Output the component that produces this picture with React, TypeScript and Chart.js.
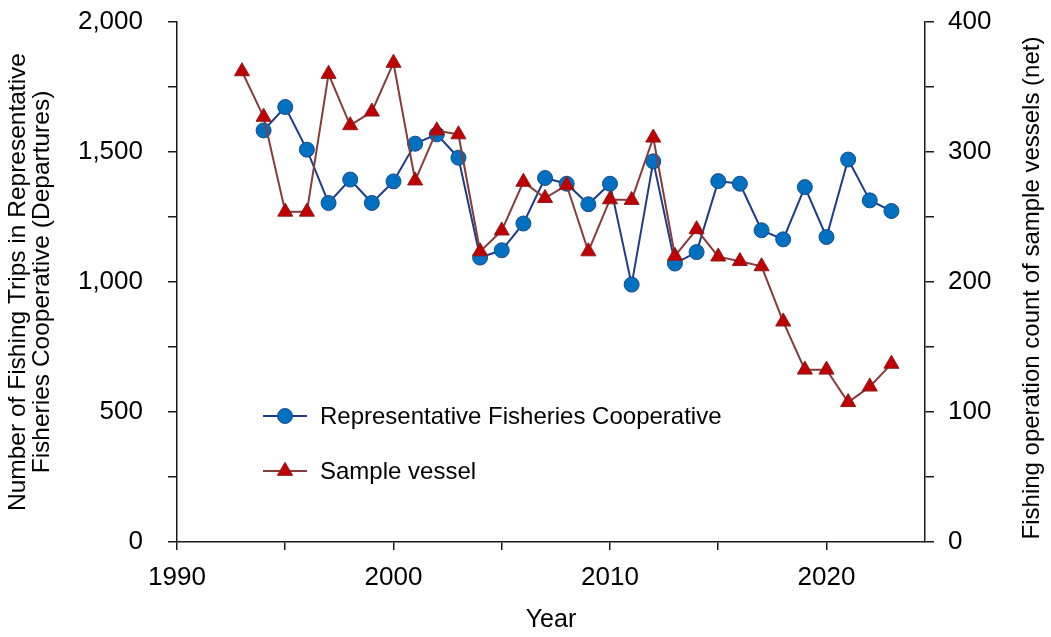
import React, { useEffect, useRef } from 'react';
import { Chart, registerables } from 'chart.js';

Chart.register(...registerables);

// ---- Data ----
const coopYears = [
  1994, 1995, 1996, 1997, 1998, 1999, 2000, 2001, 2002, 2003,
  2004, 2005, 2006, 2007, 2008, 2009, 2010, 2011, 2012, 2013,
  2014, 2015, 2016, 2017, 2018, 2019, 2020, 2021, 2022, 2023,
];
const coopTrips = [
  1583, 1673, 1509, 1304, 1394, 1304, 1387, 1532, 1568, 1478,
  1094, 1122, 1225, 1400, 1378, 1299, 1378, 990, 1464, 1071,
  1115, 1388, 1378, 1199, 1164, 1365, 1173, 1471, 1314, 1273,
];
const vesselYears = [
  1993, 1994, 1995, 1996, 1997, 1998, 1999, 2000, 2001, 2002, 2003,
  2004, 2005, 2006, 2007, 2008, 2009, 2010, 2011, 2012, 2013,
  2014, 2015, 2016, 2017, 2018, 2019, 2020, 2021, 2022, 2023,
];
const vesselCounts = [
  362, 327, 254, 254, 360, 320.5, 331, 368.5, 278, 316.5, 313.5,
  223.5, 239.5, 277, 264.5, 274.5, 223.5, 263.5, 263, 311, 220,
  240.5, 219.5, 216, 212, 169.5, 132.5, 132.5, 107.5, 119.5, 137,
];
const xTickValues = [1990, 1995, 2000, 2005, 2010, 2015, 2020];
const xLabelValues = [1990, 2000, 2010, 2020];
const leftLabelValues = [0, 500, 1000, 1500, 2000];
const rightLabelValues = [0, 100, 200, 300, 400];

const seriesNames = ['Representative Fisheries Cooperative', 'Sample vessel'];
const xTitle = 'Year';
const leftTitle = ['Number of Fishing Trips in Representative', 'Fisheries Cooperative (Departures)'];
const rightTitle = 'Fishing operation count of sample vessels (net)';

const FONT = "'Liberation Sans', Arial, Helvetica, sans-serif";
const BLUE_FILL = '#0070C0';
const BLUE_LINE = '#1F3C88';
const BLUE_EDGE = '#1A4A8A';
const RED_FILL = '#C00000';
const RED_LINE = '#843C3C';
const RED_EDGE = '#8B1E1E';
const AXIS = '#1a1a1a';

function drawMarker(ctx: CanvasRenderingContext2D, style: string, x: number, y: number, r: number, fill: string, edge: string) {
  ctx.beginPath();
  if (style === 'circle') {
    ctx.arc(x, y, r, 0, Math.PI * 2);
  } else {
    for (let i = 0; i < 3; i++) {
      const a = (i * 2 * Math.PI) / 3;
      const px = x + Math.sin(a) * r;
      const py = y - Math.cos(a) * r;
      if (i === 0) ctx.moveTo(px, py);
      else ctx.lineTo(px, py);
    }
    ctx.closePath();
  }
  ctx.fillStyle = fill;
  ctx.fill();
  ctx.lineWidth = 1;
  ctx.strokeStyle = edge;
  ctx.stroke();
}

const insideLegend = {
  id: 'insideLegend',
  afterDatasetsDraw(chart: any) {
    const { ctx, chartArea } = chart;
    const entries = [
      { text: seriesNames[0], line: BLUE_LINE, fill: BLUE_FILL, edge: BLUE_EDGE, style: 'circle', r: 7.5 },
      { text: seriesNames[1], line: RED_LINE, fill: RED_FILL, edge: RED_EDGE, style: 'triangle', r: 8.7 },
    ];
    const x0 = chartArea.left + 86;
    const y0 = chartArea.bottom - 126;
    ctx.save();
    entries.forEach((e, i) => {
      const y = y0 + i * 55;
      ctx.beginPath();
      ctx.moveTo(x0, y);
      ctx.lineTo(x0 + 44, y);
      ctx.strokeStyle = e.line;
      ctx.lineWidth = 2;
      ctx.stroke();
      drawMarker(ctx, e.style, x0 + 22, y, e.r, e.fill, e.edge);
      ctx.fillStyle = '#000';
      ctx.font = `24px ${FONT}`;
      ctx.textBaseline = 'middle';
      ctx.textAlign = 'left';
      ctx.fillText(e.text, x0 + 57, y + 1);
    });
    ctx.restore();
  },
};

// Right-axis title reads bottom-to-top, like the left one
const rightTitlePlugin = {
  id: 'rightTitle',
  afterDraw(chart: any) {
    const { ctx, chartArea, width } = chart;
    ctx.save();
    ctx.translate(width - 19, (chartArea.top + chartArea.bottom) / 2 + 6);
    ctx.rotate(-Math.PI / 2);
    ctx.fillStyle = '#000';
    ctx.font = `24px ${FONT}`;
    ctx.textAlign = 'center';
    ctx.textBaseline = 'middle';
    ctx.fillText(rightTitle, 0, 0);
    ctx.restore();
  },
};

const noVerticalOverflow = (scale: any, width: number) => {
  scale.width = width;
  scale.paddingTop = 0;
  scale.paddingBottom = 0;
};

export default function App() {
  const canvasRef = useRef<HTMLCanvasElement | null>(null);

  useEffect(() => {
    if (!canvasRef.current) return;
    const chart = new Chart(canvasRef.current, {
      type: 'line',
      data: {
        datasets: [
          {
            label: seriesNames[0],
            data: coopYears.map((y, i) => ({ x: y, y: coopTrips[i] })),
            yAxisID: 'yLeft',
            borderColor: BLUE_LINE,
            borderWidth: 2,
            backgroundColor: BLUE_FILL,
            pointBackgroundColor: BLUE_FILL,
            pointBorderColor: BLUE_EDGE,
            pointBorderWidth: 1,
            pointRadius: 7.5,
            pointStyle: 'circle',
            tension: 0,
            order: 1,
          },
          {
            label: seriesNames[1],
            data: vesselYears.map((y, i) => ({ x: y, y: vesselCounts[i] })),
            yAxisID: 'yRight',
            borderColor: RED_LINE,
            borderWidth: 2,
            backgroundColor: RED_FILL,
            pointBackgroundColor: RED_FILL,
            pointBorderColor: RED_EDGE,
            pointBorderWidth: 1,
            pointRadius: 8.7,
            pointStyle: 'triangle',
            tension: 0,
            order: 0,
          },
        ],
      },
      options: {
        animation: false,
        responsive: true,
        maintainAspectRatio: false,
        layout: { padding: { top: 22, left: 0, right: 0, bottom: 0 } },
        plugins: {
          legend: { display: false },
          tooltip: { enabled: false },
        },
        scales: {
          x: {
            type: 'linear',
            min: 1990,
            max: 2024.55,
            afterBuildTicks: (scale: any) => {
              scale.ticks = xTickValues.map((v) => ({ value: v }));
            },
            afterFit: (scale: any) => {
              scale.height = 95;
            },
            ticks: {
              autoSkip: false,
              maxRotation: 0,
              padding: 12,
              color: '#000',
              font: { family: FONT, size: 26 },
              callback: (v: any) => (xLabelValues.includes(Number(v)) ? String(v) : ''),
            },
            grid: { drawOnChartArea: false, drawTicks: true, tickLength: 8, color: AXIS, lineWidth: 1.5 },
            border: { display: true, color: AXIS, width: 1.5 },
            title: {
              display: true,
              text: xTitle,
              color: '#000',
              font: { family: FONT, size: 25 },
              padding: { top: 0, bottom: 2 },
            },
          },
          yLeft: {
            type: 'linear',
            position: 'left',
            min: 0,
            max: 2000,
            afterFit: (scale: any) => noVerticalOverflow(scale, 177),
            ticks: {
              stepSize: 250,
              autoSkip: false,
              padding: 25,
              color: '#000',
              font: { family: FONT, size: 26 },
              callback: (v: any) =>
                leftLabelValues.includes(Number(v)) ? Number(v).toLocaleString('en-US') : '',
            },
            grid: { drawOnChartArea: false, drawTicks: true, tickLength: 9, color: AXIS, lineWidth: 1.5 },
            border: { display: true, color: AXIS, width: 1.5 },
            title: {
              display: true,
              text: leftTitle,
              color: '#000',
              font: { family: FONT, size: 24.5, lineHeight: 0.95 },
              padding: { top: 7, bottom: 0 },
            },
          },
          yRight: {
            type: 'linear',
            position: 'right',
            min: 0,
            max: 400,
            afterFit: (scale: any) => noVerticalOverflow(scale, 126),
            ticks: {
              stepSize: 50,
              autoSkip: false,
              padding: 14,
              color: '#000',
              font: { family: FONT, size: 26 },
              callback: (v: any) => (rightLabelValues.includes(Number(v)) ? String(v) : ''),
            },
            grid: { drawOnChartArea: false, drawTicks: true, tickLength: 9, color: AXIS, lineWidth: 1.5 },
            border: { display: true, color: AXIS, width: 1.5 },
            title: { display: false },
          },
        },
      },
      plugins: [insideLegend, rightTitlePlugin],
    });
    return () => chart.destroy();
  }, []);

  return (
    <div style={{ position: 'absolute', left: 0, top: 0, width: 1051, height: 637, background: '#fff' }}>
      <canvas ref={canvasRef} />
    </div>
  );
}
